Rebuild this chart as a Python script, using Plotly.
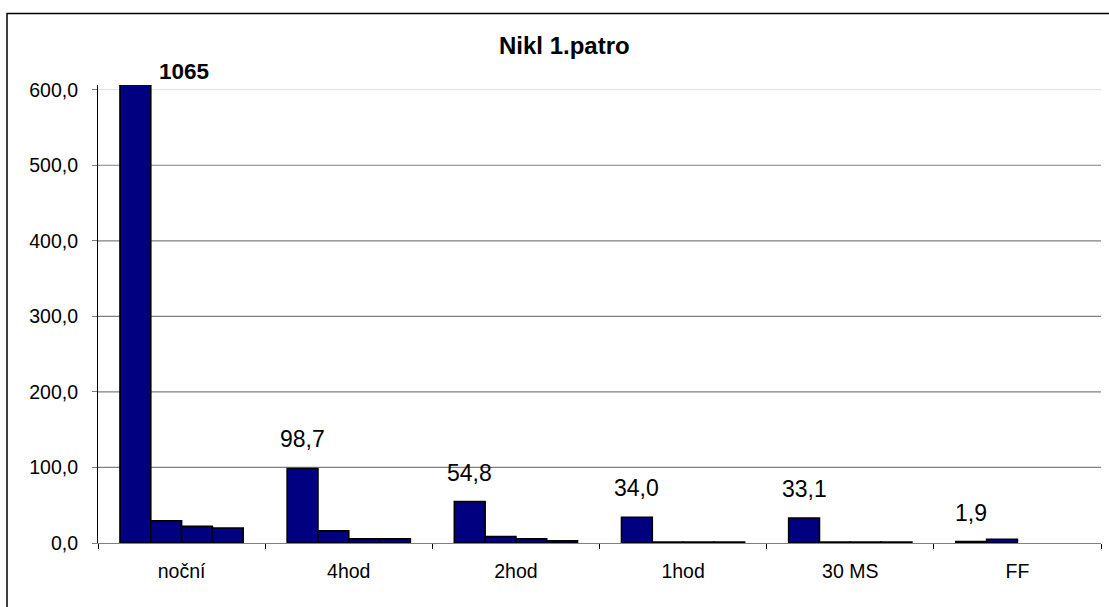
import plotly.graph_objects as go

# Nickel concentrations, 1st floor, by sampling interval
categories = ["noční", "4hod", "2hod", "1hod", "30 MS", "FF"]
series_1 = [1065, 98.7, 54.8, 34.0, 33.1, 1.9]
series_2 = [29.5, 16.0, 8.5, 1.2, 1.2, 5.0]
series_3 = [22.0, 5.5, 5.5, 1.2, 1.2, None]
series_4 = [19.8, 5.5, 3.0, 1.2, 1.2, None]
y_ticks = [0, 100, 200, 300, 400, 500, 600]
title_text = "Nikl 1.patro"

BAR_GAP = 0.263
N_SERIES = 4
Y_MAX = 600
Y_TOP = 606.2

FONT = "Liberation Sans, Arial, sans-serif"
NAVY = "#000080"

fig = go.Figure()
for vals in (series_1, series_2, series_3, series_4):
    fig.add_trace(go.Bar(
        x=categories, y=vals,
        marker=dict(color=NAVY, line=dict(color="black", width=1.6)),
        showlegend=False, hoverinfo="x+y",
    ))

# value labels above the first bar of each group
bar_w = (1 - BAR_GAP) / N_SERIES
first_offset = -(1 - BAR_GAP) / 2 + bar_w / 2
for i, v in enumerate(series_1):
    if v > Y_MAX:
        fig.add_annotation(
            x=i + first_offset + bar_w / 2, y=Y_MAX, xref="x", yref="y",
            text=f"<b>{v:.0f}</b>", showarrow=False,
            xanchor="left", yanchor="bottom", xshift=6, yshift=4,
            font=dict(family=FONT, size=22.5, color="black"),
        )
    else:
        fig.add_annotation(
            x=i + first_offset, y=v, xref="x", yref="y",
            text=f"{v:.1f}".replace(".", ","), showarrow=False,
            xanchor="center", yanchor="bottom", yshift=14,
            font=dict(family=FONT, size=23, color="black"),
        )

# chart title
fig.add_annotation(
    xref="paper", yref="paper",
    x=(564 - 98) / 1003, y=(543.3 - 45) / 458.3,
    xanchor="center", yanchor="middle",
    text=f"<b>{title_text}</b>", showarrow=False,
    font=dict(family=FONT, size=24, color="black"),
)

# horizontal gridlines (the top one is lighter; the zero line is the x axis)
for t in y_ticks[1:]:
    fig.add_shape(type="line", xref="paper", yref="y", x0=0, x1=1, y0=t, y1=t,
                  line=dict(color="#e4e4e4" if t == Y_MAX else "#808080", width=1.2),
                  layer="below")

# chart frame
fig.add_shape(type="rect", xref="paper", yref="paper",
              x0=(7 - 98) / 1003, x1=1.2, y0=-0.5, y1=(543.3 - 13.5) / 458.3,
              line=dict(color="black", width=1.5), fillcolor="rgba(0,0,0,0)")

fig.update_layout(
    width=1109, height=607,
    margin=dict(l=98, r=8, t=85, b=64),
    paper_bgcolor="white", plot_bgcolor="white",
    barmode="group", bargap=BAR_GAP, bargroupgap=0,
    separators=", ",
    font=dict(family=FONT, size=19, color="black"),
    xaxis=dict(
        type="category", showline=True, linecolor="#808080", linewidth=1.2,
        ticks="outside", tickson="boundaries", ticklen=5, tickcolor="black",
        tickwidth=1, showgrid=False, ticklabelstandoff=10,
        tickfont=dict(family=FONT, size=19.5, color="black"),
    ),
    yaxis=dict(
        range=[0, Y_TOP], tickvals=y_ticks, tickformat=".1f",
        showline=True, linecolor="black", linewidth=1.2,
        ticks="outside", ticklen=5, tickcolor="#808080", tickwidth=1.2,
        showgrid=False, zeroline=False, ticklabelstandoff=10,
        tickfont=dict(family=FONT, size=19.5, color="black"),
    ),
)

fig.write_html("out.html")
